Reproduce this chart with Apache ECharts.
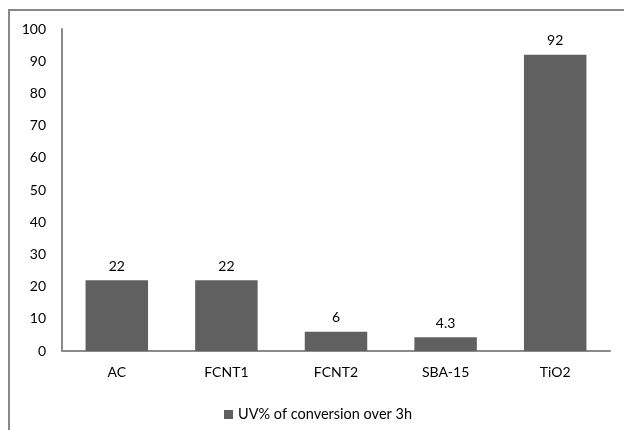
<!DOCTYPE html>
<html>
<head>
<meta charset="utf-8">
<script src="https://cdn.jsdelivr.net/npm/echarts@6/dist/echarts.min.js"></script>
<style>
html,body{margin:0;padding:0;background:#fff;}
#main{width:624px;height:430px;}
</style>
</head>
<body>
<div id="main"></div>
<script>
const categories = ["AC", "FCNT1", "FCNT2", "SBA-15", "TiO2"];
const seriesName = "UV% of conversion over 3h";
const values = [22, 22, 6, 4.3, 92];
const yMin = 0, yMax = 100, yStep = 10;

const chart = echarts.init(document.getElementById('main'), null, {renderer: 'canvas'});
const font = 'Lato, "Open Sans", sans-serif';
chart.setOption({
  animation: false,
  backgroundColor: '#fff',
  graphic: [{
    type: 'rect',
    shape: {x: 9, y: 10, width: 700, height: 500},
    style: {fill: 'none', stroke: '#898989', lineWidth: 2},
    silent: true
  }],
  grid: {left: 62, right: 14, top: 29, bottom: 79, containLabel: false},
  legend: {
    data: [seriesName],
    left: 219, top: 402,
    itemWidth: 9, itemHeight: 9, itemGap: 4,
    icon: 'rect',
    textStyle: {fontFamily: font, fontSize: 14.5, color: '#000'}
  },
  xAxis: {
    type: 'category',
    data: categories,
    axisLine: {show: true, lineStyle: {color: '#898989', width: 2}},
    axisTick: {show: false},
    axisLabel: {fontFamily: font, fontSize: 14, color: '#000', margin: 14}
  },
  yAxis: {
    type: 'value',
    min: yMin, max: yMax, interval: yStep,
    axisLine: {show: true, lineStyle: {color: '#898989', width: 2}},
    axisTick: {show: false},
    splitLine: {show: false},
    axisLabel: {fontFamily: font, fontSize: 14, color: '#000', margin: 16}
  },
  series: [{
    name: seriesName,
    type: 'bar',
    data: values,
    barWidth: '57%',
    itemStyle: {color: '#606060'},
    label: {show: true, position: 'top', distance: 7, fontFamily: font, fontSize: 14, color: '#000'}
  }]
});
</script>
</body>
</html>
